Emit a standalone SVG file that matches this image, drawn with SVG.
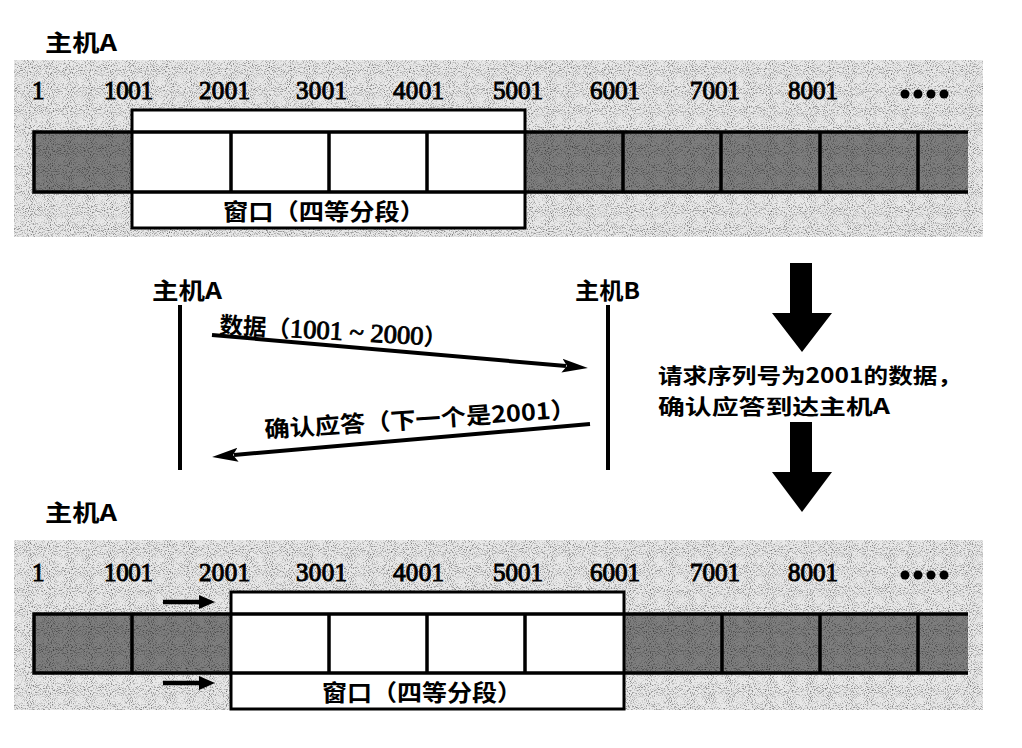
<svg xmlns="http://www.w3.org/2000/svg" width="1022" height="748" viewBox="0 0 1022 748">
<defs>
  <filter id="speckle" x="0" y="0" width="1" height="1" color-interpolation-filters="sRGB">
    <feTurbulence type="fractalNoise" baseFrequency="0.95" numOctaves="1" seed="7" result="n"/>
    <feColorMatrix in="n" type="matrix" values="0 0 0 0 0  0 0 0 0 0  0 0 0 0 0  1.8 0 0 0 -0.9" result="a"/>
    <feComposite in="a" in2="SourceGraphic" operator="in" result="s"/>
    <feMerge><feMergeNode in="SourceGraphic"/><feMergeNode in="s"/></feMerge>
  </filter>
  <marker id="head" markerUnits="userSpaceOnUse" markerWidth="28" markerHeight="18" refX="4" refY="8" orient="auto">
    <path d="M0,1 L26,8 L0,15 L5,8 Z" fill="#000"/>
  </marker>
  <marker id="headS" markerUnits="userSpaceOnUse" markerWidth="18" markerHeight="16" refX="2" refY="7" orient="auto">
    <path d="M0,0 L16,7 L0,14 Z" fill="#000"/>
  </marker>
  <style>
    .bg{fill:#e8e8e8;filter:url(#speckle)}
    .dk{fill:#7e7e7e;filter:url(#speckle)}
    .win{fill:#fff;stroke:#000;stroke-width:3}
    .ln{stroke:#000;stroke-width:3.5;fill:none}
    .num{font-family:"Liberation Serif",serif;font-size:25px;fill:#000;stroke:#000;stroke-width:1}
    .cjk{font-family:"Noto Sans CJK SC","Noto Sans",sans-serif;font-size:23px;font-weight:bold;fill:#000}
    .note{font-family:"Noto Sans CJK SC","Noto Sans",sans-serif;font-size:21px;font-weight:bold;fill:#000}
    .mix{font-family:"Liberation Serif","Noto Sans CJK SC",serif;font-size:26px;fill:#000}
    .mix .d{stroke:#000;stroke-width:0.9}
    .mix .c{font-family:"Noto Sans CJK SC",sans-serif;font-weight:bold;font-size:23px}
    .life{stroke:#000;stroke-width:4}
    .msg{stroke:#000;stroke-width:4;fill:none;marker-end:url(#head)}
    .sm{stroke:#000;stroke-width:4.5;fill:none;marker-end:url(#headS)}
    .big{fill:#000}
  </style>
</defs>

<g id="band-top">
  <text class="cjk" x="45" y="51" textLength="72" lengthAdjust="spacingAndGlyphs">主机A</text>
  <rect class="bg" x="14" y="60" width="969" height="177"/>
  <g class="num">
    <text x="32" y="99">1</text>
    <text x="104" y="99" textLength="49">1001</text>
    <text x="199" y="99" textLength="51">2001</text>
    <text x="296" y="99" textLength="51">3001</text>
    <text x="393" y="99" textLength="51">4001</text>
    <text x="493" y="99" textLength="50">5001</text>
    <text x="590" y="99" textLength="50">6001</text>
    <text x="690" y="99" textLength="50">7001</text>
    <text x="788" y="99" textLength="50">8001</text>
  </g>
  <g fill="#000"><circle cx="905" cy="94" r="4.5"/><circle cx="918" cy="94" r="4.5"/><circle cx="931" cy="94" r="4.5"/><circle cx="944" cy="94" r="4.5"/></g>
  <rect class="dk" x="34" y="132" width="98" height="60"/>
  <rect class="dk" x="525" y="132" width="443" height="60"/>
  <rect class="win" x="132" y="110" width="393" height="118"/>
  <path class="ln" d="M968,132 H34 V192 H968 M231,132 V192 M329,132 V192 M427,132 V192 M623,132 V192 M721,132 V192 M820,132 V192 M918,132 V192"/>
  <text class="cjk" x="223" y="220" textLength="202" lengthAdjust="spacingAndGlyphs">窗口（四等分段）</text>
</g>

<g id="hostA">
  <text class="cjk" x="152" y="299" textLength="70" lengthAdjust="spacingAndGlyphs">主机A</text>
  <line class="life" x1="180" y1="305" x2="180" y2="470"/>
</g>
<g id="hostB">
  <text class="cjk" x="575" y="299" textLength="65" lengthAdjust="spacingAndGlyphs">主机B</text>
  <line class="life" x1="608" y1="305" x2="608" y2="470"/>
</g>

<g id="labels">
  <text class="mix" x="219" y="333" transform="rotate(3.3 219 333)" textLength="228" lengthAdjust="spacingAndGlyphs"><tspan class="c">数据（</tspan><tspan class="d">1001 ~ 2000</tspan><tspan class="c">）</tspan></text>
  <text class="cjk" x="265" y="438" transform="rotate(-3.8 265 438)" textLength="312" lengthAdjust="spacingAndGlyphs">确认应答（下一个是2001）</text>
</g>

<g id="step-note">
  <polygon class="big" points="790,263 812,263 812,313 832,313 802,352 772,313 790,313"/>
  <text class="note" x="658" y="383" textLength="304" lengthAdjust="spacingAndGlyphs">请求序列号为2001的数据，</text>
  <text class="note" x="658" y="414" textLength="232" lengthAdjust="spacingAndGlyphs">确认应答到达主机A</text>
  <polygon class="big" points="790,422 812,422 812,472 832,472 802,512 772,472 790,472"/>
</g>

<g id="band-bottom">
  <text class="cjk" x="45" y="521" textLength="72" lengthAdjust="spacingAndGlyphs">主机A</text>
  <rect class="bg" x="14" y="540" width="969" height="170"/>
  <g class="num">
    <text x="32" y="581">1</text>
    <text x="104" y="581" textLength="49">1001</text>
    <text x="199" y="581" textLength="51">2001</text>
    <text x="296" y="581" textLength="51">3001</text>
    <text x="393" y="581" textLength="51">4001</text>
    <text x="493" y="581" textLength="50">5001</text>
    <text x="590" y="581" textLength="50">6001</text>
    <text x="690" y="581" textLength="50">7001</text>
    <text x="788" y="581" textLength="50">8001</text>
  </g>
  <g fill="#000"><circle cx="905" cy="575" r="4.5"/><circle cx="918" cy="575" r="4.5"/><circle cx="931" cy="575" r="4.5"/><circle cx="944" cy="575" r="4.5"/></g>
  <rect class="dk" x="34" y="614" width="197" height="59"/>
  <rect class="dk" x="624" y="614" width="344" height="59"/>
  <rect class="win" x="231" y="592" width="393" height="117"/>
  <path class="ln" d="M968,614 H34 V673 H968 M132,614 V673 M329,614 V673 M427,614 V673 M525,614 V673 M722,614 V673 M820,614 V673 M918,614 V673"/>
  <text class="cjk" x="322" y="701" textLength="200" lengthAdjust="spacingAndGlyphs">窗口（四等分段）</text>
</g>

<g id="connectors">
  <line class="msg" x1="212" y1="335" x2="566" y2="366"/>
  <line class="msg" x1="590" y1="424" x2="234" y2="455"/>
  <line class="sm" x1="163" y1="602" x2="201" y2="602"/>
  <line class="sm" x1="163" y1="683" x2="201" y2="683"/>
</g>
</svg>
